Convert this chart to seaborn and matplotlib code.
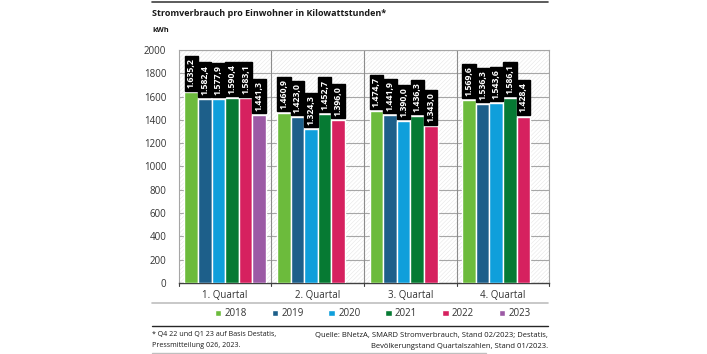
import numpy as np
import pandas as pd
import matplotlib.pyplot as plt
import seaborn as sns
from matplotlib.patches import Rectangle

quarters = ['1. Quartal', '2. Quartal', '3. Quartal', '4. Quartal']
years = ['2018', '2019', '2020', '2021', '2022', '2023']
v2018 = [1635.2, 1460.9, 1474.7, 1569.6]
v2019 = [1582.4, 1423.0, 1441.9, 1536.3]
v2020 = [1577.9, 1324.3, 1390.0, 1543.6]
v2021 = [1590.4, 1452.7, 1436.3, 1586.1]
v2022 = [1583.1, 1396.0, 1343.0, 1428.4]
v2023 = [1441.3, np.nan, np.nan, np.nan]
colors = ['#6cbb3c', '#1d5f8a', '#0f9fdb', '#067a33', '#d6215f', '#9c5aa5']

rows = []
for y, vals in zip(years, [v2018, v2019, v2020, v2021, v2022, v2023]):
    for q, v in zip(quarters, vals):
        rows.append({'quarter': q, 'year': y, 'kwh': v})
df = pd.DataFrame(rows)

sns.set_style('white')
plt.rcParams['font.family'] = ['Open Sans', 'DejaVu Sans']
plt.rcParams['hatch.linewidth'] = 0.4

fig = plt.figure(figsize=(7.07, 3.54), dpi=100)
ax = fig.add_axes([0.253, 0.2006, 0.524, 0.6584])

# hatched plot background
ax.add_patch(Rectangle((0, 0), 1, 1, transform=ax.transAxes, facecolor='white',
                       edgecolor='#e6e6e6', hatch='////////', lw=0, zorder=0))

sns.barplot(data=df, x='quarter', y='kwh', hue='year', palette=colors,
            width=0.88, saturation=1, ax=ax, zorder=3, legend=True)

ax.set_ylim(0, 2000)
ax.set_xlim(-0.5, 3.5)
ax.set_yticks(np.arange(0, 2001, 200))
for yy in np.arange(200, 2001, 200):
    ax.axhline(yy, color='#a6a6a6', lw=0.8, zorder=1)
for xx in [0.5, 1.5, 2.5]:
    ax.axvline(xx, color='#8c8c8c', lw=0.8, zorder=1)

for sp in ['top', 'right', 'left']:
    ax.spines[sp].set_color('#a6a6a6')
    ax.spines[sp].set_linewidth(0.8)
ax.spines['bottom'].set_color('#404040')
ax.spines['bottom'].set_linewidth(1.0)

ax.set_xlabel('')
ax.set_ylabel('')
ax.tick_params(axis='y', labelsize=7, colors='#333333', length=3, width=0.8, pad=6)
ax.tick_params(axis='y', color='#a6a6a6')
ax.tick_params(axis='x', labelsize=7, colors='#333333', length=0, pad=5)
ax.set_xticks([0, 1, 2, 3])
ax.set_xticklabels(quarters)
for xx in [-0.5, 0.5, 1.5, 2.5, 3.5]:
    ax.plot([xx, xx], [0, -25], color='#404040', lw=0.8, clip_on=False, zorder=4)

# value labels
for cont in ax.containers:
    for bar in cont:
        h = bar.get_height()
        if np.isnan(h) or h == 0:
            continue
        ax.add_patch(Rectangle((bar.get_x(), h), bar.get_width(), 12,
                               facecolor='white', lw=0, zorder=4))
        lab = f'{h:,.1f}'.replace(',', 'X').replace('.', ',').replace('X', '.')
        ax.text(bar.get_x() + bar.get_width() / 2, h + 35, lab, rotation=90,
                ha='center', va='bottom', color='white', fontsize=6.3,
                fontweight='bold', zorder=5,
                bbox=dict(boxstyle='square,pad=0.25', facecolor='black',
                          edgecolor='black'))

handles, labels = ax.get_legend_handles_labels()
ax.get_legend().remove()
fig.legend(handles, labels, loc='center', bbox_to_anchor=(0.527, 0.113), ncol=6,
           frameon=False, fontsize=7, handlelength=0.7, handleheight=0.7,
           handletextpad=0.3, columnspacing=2.55, labelcolor='#333333')

# title, unit, rules, notes
fig.text(152 / 707, 1 - 13 / 354, 'Stromverbrauch pro Einwohner in Kilowattstunden*',
         fontsize=6.5, fontweight='bold', va='center', ha='left', color='#1a1a1a')
fig.text(152 / 707, 1 - 30 / 354, 'kWh', fontsize=5.3, fontweight='bold',
         va='center', ha='left', color='#1a1a1a')
fig.add_artist(plt.Line2D([152 / 707, 548 / 707], [1 - 2 / 354, 1 - 2 / 354],
                          color='#404040', lw=1.2))
fig.add_artist(plt.Line2D([152 / 707, 548 / 707], [1 - 303 / 354, 1 - 303 / 354],
                          color='#bfbfbf', lw=1.2))
fig.add_artist(plt.Line2D([152 / 707, 548 / 707], [1 - 326 / 354, 1 - 326 / 354],
                          color='#262626', lw=1.0))
fig.add_artist(plt.Line2D([152 / 707, 486 / 707], [1 - 352.5 / 354, 1 - 352.5 / 354],
                          color='#bfbfbf', lw=1.0))
fig.text(152 / 707, 1 - 340 / 354, '* Q4 22 und Q1 23 auf Basis Destatis,\nPressmitteilung 026, 2023.',
         fontsize=5.1, va='center', ha='left', color='#1a1a1a', linespacing=1.7)
fig.text(548 / 707, 1 - 341 / 354,
         'Quelle: BNetzA, SMARD Stromverbrauch, Stand 02/2023; Destatis,\nBevölkerungstand Quartalszahlen, Stand 01/2023.',
         fontsize=5.5, va='center', ha='right', color='#1a1a1a', linespacing=1.65)

fig.savefig('out.png', dpi=100)
